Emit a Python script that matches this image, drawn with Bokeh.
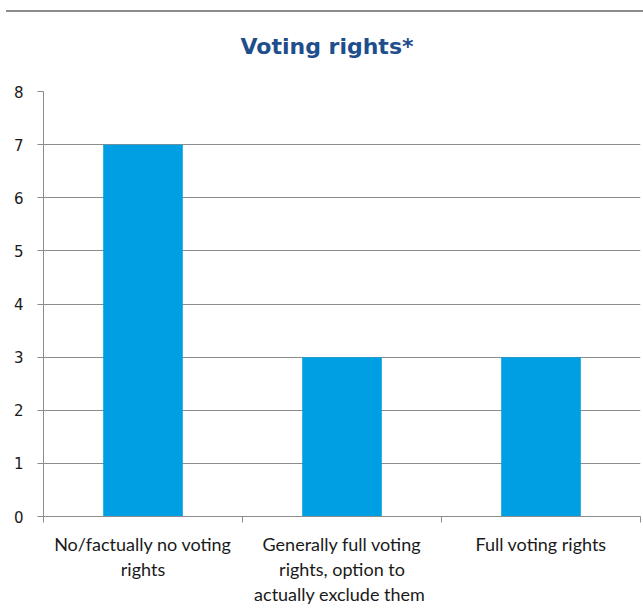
from bokeh.plotting import figure
from bokeh.models import FixedTicker, Range1d, ColumnDataSource, Div, Title
from bokeh.layouts import column
from bokeh.embed import file_html
from bokeh.resources import INLINE

categories = ["No/factually no voting rights",
              "Generally full voting rights, option to actually exclude them",
              "Full voting rights"]
tick_labels = ["No/factually no voting\nrights",
               "Generally full voting\nrights, option to\nactually  exclude them",
               "Full voting rights"]
values = [7, 3, 3]
y_ticks = [0, 1, 2, 3, 4, 5, 6, 7, 8]

xs = [i + 0.5 for i in range(len(categories))]
src = ColumnDataSource(dict(x=xs, top=values, cat=categories))

top_rule = Div(text="", width=637, height=12, margin=(0, 0, 0, 6),
               styles={"border-bottom": "2px solid #8C8C8C", "box-sizing": "border-box"})

p = figure(width=643, height=596, output_backend="svg", toolbar_location=None,
           x_range=Range1d(0, len(categories)), y_range=Range1d(0, 8),
           title="Voting rights*")
p.min_border_left = 43
p.min_border_right = 3
p.min_border_top = 79
p.min_border_bottom = 90
p.outline_line_color = None
p.background_fill_color = "white"
p.border_fill_color = "white"

p.title.text_font = "DejaVu Sans"
p.title.text_font_size = "22px"
p.title.text_font_style = "bold"
p.title.text_color = "#1F4E8C"
p.title.align = "left"
p.title.offset = 197
p.title.standoff = 4

# empty spacer panel between title and plot area
p.add_layout(Title(text=" ", text_font_size="1px", standoff=28), "above")

p.vbar(x="x", top="top", width=0.4, bottom=0, source=src,
       fill_color="#009FE3", line_color=None)

# y axis
p.yaxis.ticker = FixedTicker(ticks=y_ticks)
p.yaxis.axis_line_color = "#8C8C8C"
p.yaxis.major_tick_line_color = "#8C8C8C"
p.yaxis.major_tick_out = 6
p.yaxis.major_tick_in = 0
p.yaxis.minor_tick_line_color = None
p.yaxis.major_label_text_font = "DejaVu Sans"
p.yaxis.major_label_text_font_size = "15px"
p.yaxis.major_label_text_color = "#1a1a1a"
p.yaxis.major_label_standoff = 14

# x axis
p.xaxis.ticker = FixedTicker(ticks=xs, minor_ticks=list(range(len(categories) + 1)))
p.xaxis.major_label_overrides = {x: lab for x, lab in zip(xs, tick_labels)}
p.xaxis.axis_line_color = "#8C8C8C"
p.xaxis.major_tick_line_color = None
p.xaxis.minor_tick_line_color = "#8C8C8C"
p.xaxis.minor_tick_out = 6
p.xaxis.minor_tick_in = 0
p.xaxis.major_label_text_font = "Lato"
p.xaxis.major_label_text_font_size = "18px"
p.xaxis.major_label_text_line_height = 1.15
p.xaxis.major_label_text_color = "#1a1a1a"
p.xaxis.major_label_standoff = 10

p.xgrid.grid_line_color = None
p.ygrid.ticker = FixedTicker(ticks=y_ticks)
p.ygrid.grid_line_color = "#8C8C8C"
p.ygrid.grid_line_width = 1

layout = column(top_rule, p, spacing=0)
open("out.html", "w").write(file_html(layout, INLINE))
